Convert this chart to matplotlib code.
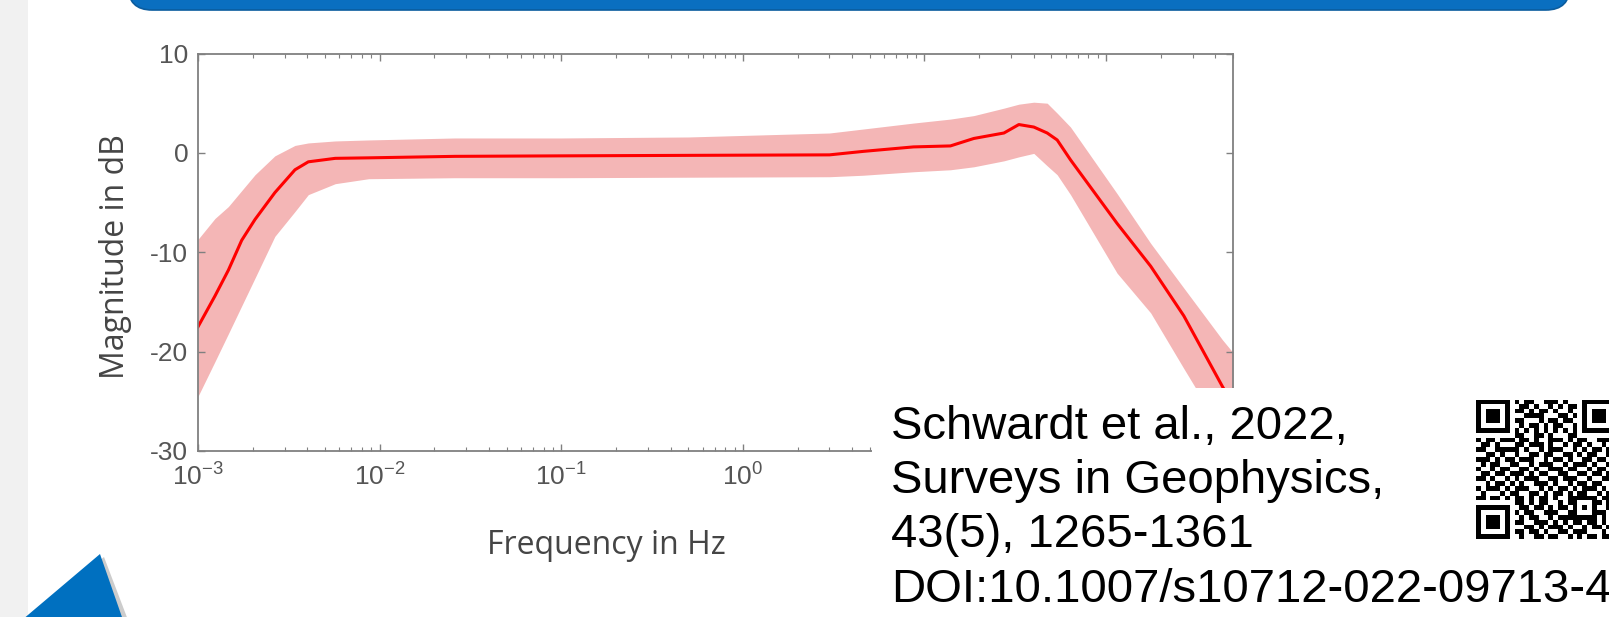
import matplotlib
matplotlib.use('Agg')
import matplotlib.pyplot as plt
import numpy as np
from matplotlib.patches import Rectangle, Polygon, FancyBboxPatch

W, H = 1609, 617

# Data
freq_hz = [0.001, 0.00124, 0.00147, 0.00174, 0.00206, 0.00265, 0.00342, 0.00405,
           0.0057, 0.0087, 0.026, 0.1, 0.5, 3.0, 4.6, 8.7, 13.9, 18.7, 27.4, 33.1,
           40.0, 47.4, 53.8, 63.7, 115, 176, 268, 437, 500]
mag_db = [-17.5, -14.4, -11.8, -8.8, -6.7, -4.0, -1.7, -0.9,
          -0.55, -0.5, -0.35, -0.3, -0.25, -0.2, 0.15, 0.6, 0.7, 1.45, 2.0, 2.85,
          2.6, 2.0, 1.3, -0.7, -7.1, -11.4, -16.4, -23.5, -25.3]
upper_db = [-8.7, -6.6, -5.4, -3.8, -2.2, -0.3, 0.75, 1.0,
            1.2, 1.3, 1.5, 1.5, 1.6, 2.0, 2.4, 3.0, 3.4, 3.75, 4.5, 4.9,
            5.1, 5.0, 4.0, 2.6, -4.1, -9.1, -13.6, -18.8, -20.1]
lower_db = [-24.5, -21.0, -18.2, -15.4, -12.6, -8.4, -5.9, -4.2,
            -3.1, -2.6, -2.5, -2.5, -2.45, -2.4, -2.25, -1.9, -1.7, -1.4, -0.8, -0.4,
            -0.05, -1.3, -2.2, -4.2, -12.1, -16.1, -21.7, -28.1, -30.0]

x_ticks = [1e-3, 1e-2, 1e-1, 1e0, 1e1, 1e2]
# the last two labels sit under the citation box in the original
x_tick_labels = ['$10^{-3}$', '$10^{-2}$', '$10^{-1}$', '$10^{0}$', '', '']
y_ticks = [-30, -20, -10, 0, 10]

citation = ["Schwardt et al., 2022,",
            "Surveys in Geophysics,",
            "43(5), 1265-1361",
            "DOI:10.1007/s10712-022-09713-4"]

qr_rows = [
    "1111111" + "0" + "1011001110100" + "0" + "1111111",
    "1000001" + "0" + "0110100101011" + "0" + "1000001",
    "1011101" + "0" + "1101011010010" + "0" + "1011101",
    "1011101" + "0" + "0011110001101" + "0" + "1011101",
    "1011101" + "0" + "1100010110110" + "0" + "1011101",
    "1000001" + "0" + "0101101011001" + "0" + "1000001",
    "1111111" + "0" + "1010101010101" + "0" + "1111111",
    "00000000" + "1100110100011" + "00000000",
    "101101" + "1" + "1011010011101011001110",
    "011010" + "0" + "0110111010010110100101",
    "110011" + "1" + "1101001011100101011010",
    "001101" + "0" + "0100110110011010110011",
    "111010" + "1" + "1011100101101001101100",
    "010110" + "0" + "1100101110010111010011",
    "100101" + "1" + "0011010011101100101101",
    "011011" + "0" + "1110101100110011011010",
    "110100" + "1" + "0101110011011100100111",
    "001011" + "0" + "1010011101001011011001",
    "101110" + "1" + "0111001010110101110100",
    "010001" + "0" + "1100110101101011001011",
    "110110" + "1" + "0110101101001" + "11111" + "0110",
    "00000000" + "110101100101" + "10001" + "1010",
    "1111111" + "0" + "011011010110" + "10101" + "0011",
    "1000001" + "0" + "101100111001" + "10001" + "1101",
    "1011101" + "0" + "010110010111" + "11111" + "0100",
    "1011101" + "0" + "110011101010110110101",
    "1011101" + "0" + "001101011101001011010",
    "1000001" + "0" + "110110100110111000101",
    "1111111" + "0" + "010011011001010110111",
]

plt.rcParams['font.family'] = ['Liberation Sans', 'DejaVu Sans']
plt.rcParams['mathtext.fontset'] = 'custom'
plt.rcParams['mathtext.rm'] = 'Liberation Sans'
plt.rcParams['mathtext.it'] = 'Liberation Sans'
plt.rcParams['mathtext.default'] = 'rm'
plt.rcParams['axes.unicode_minus'] = False


def fx(px):
    return px / W


def fy(py):
    return 1 - py / H


fig = plt.figure(figsize=(W / 100, H / 100), dpi=100)
fig.patch.set_facecolor('white')

# poster background pieces
fig.patches.append(Rectangle((0, 0), fx(28), 1, transform=fig.transFigure,
                             facecolor='#f1f1f1', edgecolor='none', zorder=0))
fig.patches.append(FancyBboxPatch((fx(128), fy(10)), fx(1570) - fx(128), 0.1,
                                  boxstyle='round,pad=0,rounding_size=0.015',
                                  transform=fig.transFigure, mutation_aspect=W / H,
                                  facecolor='#0a6fc0', edgecolor='#0b5c9e', lw=1.2, zorder=1))
fig.patches.append(Polygon([(fx(104), fy(557)), (fx(26), fy(620)), (fx(128), fy(620))],
                           closed=True, transform=fig.transFigure,
                           facecolor='#9a9a9a', edgecolor='none', alpha=0.5, zorder=1))
fig.patches.append(Polygon([(fx(100), fy(554)), (fx(22), fy(620)), (fx(123), fy(620))],
                           closed=True, transform=fig.transFigure,
                           facecolor='#0070c0', edgecolor='none', zorder=2))

# main plot
ax = fig.add_axes([fx(198), fy(451), fx(1233) - fx(198), (451 - 53.5) / H])
ax.fill_between(freq_hz, lower_db, upper_db, color='#f4b6b6', lw=0)
ax.plot(freq_hz, mag_db, color='#ff0000', lw=2.2)
ax.set_xscale('log')
ax.set_xlim(1e-3, 500)
ax.set_ylim(-30, 10)
ax.set_xticks(x_ticks)
ax.set_xticklabels(x_tick_labels)
ax.set_yticks(y_ticks)
ax.set_yticklabels([str(v) for v in y_ticks])
ax.tick_params(which='both', direction='in', top=True, right=True, color='#808080')
ax.tick_params(which='major', length=5, width=1, labelsize=19, labelcolor='#555555')
ax.tick_params(axis='x', which='major', pad=9)
ax.tick_params(axis='y', which='major', pad=7)
ax.tick_params(which='minor', length=3, width=0.8)
for s in ax.spines.values():
    s.set_color('#808080')
    s.set_linewidth(1.3)

fig.text(fx(606), fy(545), 'Frequency in Hz', ha='center', va='center',
         fontsize=23, color='#454545', family=['Open Sans', 'DejaVu Sans'])
fig.text(fx(115), fy(257), 'Magnitude in dB', ha='center', va='center', rotation=90,
         fontsize=23, color='#454545', family=['Open Sans', 'DejaVu Sans'])

# citation block
fig.patches.append(Rectangle((fx(872), 0), 1 - fx(872), fy(388), transform=fig.transFigure,
                             facecolor='white', edgecolor='none', zorder=5))
baselines = [439, 493, 547, 602]
for line, b in zip(citation, baselines):
    fig.text(fx(891), fy(b), line, ha='left', va='baseline', fontsize=34,
             color='black', family=['Liberation Sans', 'DejaVu Sans'], zorder=6)

qr = np.array([[int(c) for c in r] for r in qr_rows])
qr_size = 29 * 4.8
ax_qr = fig.add_axes([fx(1476), fy(400 + qr_size), qr_size / W, qr_size / H], zorder=7)
ax_qr.imshow(qr, cmap='binary', interpolation='nearest', aspect='auto')
ax_qr.axis('off')

fig.savefig('out.png', dpi=100)
